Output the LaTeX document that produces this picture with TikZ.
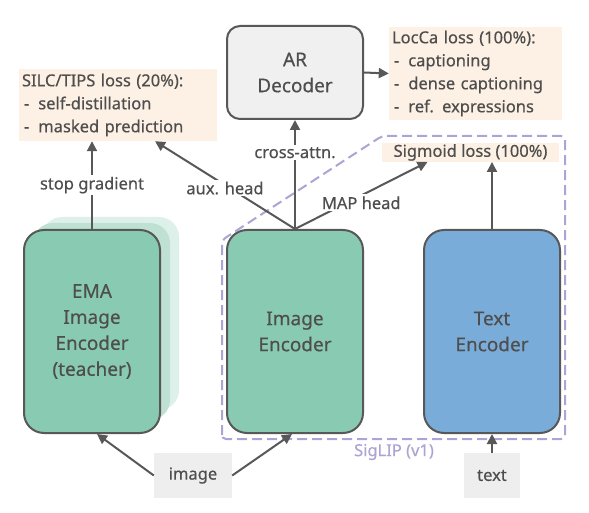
\documentclass[tikz,border=0pt]{standalone}
\usepackage{fontspec}
\setmainfont{Noto Sans}[FakeBold=0.45]
\usetikzlibrary{arrows.meta,positioning,calc}

\definecolor{encgreen}{RGB}{137,202,178}
\definecolor{encblue}{RGB}{122,172,218}
\definecolor{linegray}{RGB}{88,88,88}
\definecolor{txtgray}{RGB}{78,78,78}
\definecolor{lossfill}{RGB}{253,240,228}
\definecolor{decfill}{RGB}{240,240,240}
\definecolor{inputfill}{RGB}{238,238,238}
\definecolor{siglip}{RGB}{172,164,212}
\definecolor{shadenear}{RGB}{190,225,211}
\definecolor{shadefar}{RGB}{221,240,233}

\newcommand{\lossitem}[1]{\hspace*{2pt}-\hspace*{9pt}#1}

\begin{document}
\begin{tikzpicture}[x=1pt, y=-1pt, text=txtgray, font=\fontsize{16.5}{23}\selectfont,
  enc/.style={draw=linegray, line width=2pt, rounded corners=20pt, minimum width=136pt, minimum height=203pt, align=center, font=\fontsize{19}{26}\selectfont},
  dec/.style={draw=linegray, line width=2pt, rounded corners=13pt, fill=decfill, minimum width=136pt, minimum height=93pt, align=center, font=\fontsize{19}{26}\selectfont},
  loss/.style={fill=lossfill, align=left, inner sep=3pt},
  input/.style={fill=inputfill, minimum height=45pt, inner sep=0pt},
  arr/.style={draw=linegray, line width=2pt, -{Triangle[length=10pt,width=10pt]}},
  lbl/.style={fill=white, inner sep=2pt}]
  \useasboundingbox (0,0) rectangle (589,513);

  % teacher copies behind the EMA encoder
  \fill[shadefar, rounded corners=20pt] (42,217) rectangle (179,410);
  \fill[shadenear, rounded corners=20pt] (33,223) rectangle (170,420);

  % encoders and decoder
  \node[enc, fill=encgreen] (ema) at (92,331.5) {EMA\\Image\\Encoder\\(teacher)};
  \node[enc, fill=encgreen] (imgenc) at (295,331.5) {Image\\Encoder};
  \node[enc, fill=encblue] (txtenc) at (492,331.5) {Text\\Encoder};
  \node[dec] (ardec) at (295,72.5) {AR\\Decoder};

  % losses
  \node[loss, text width=192pt, minimum height=72pt] (silc) at (118,105) {SILC/TIPS loss (20\%):\\\lossitem{self-distillation}\\\lossitem{masked prediction}};
  \node[loss, text width=167pt, minimum height=93pt] (locca) at (475.5,73.5) {LocCa loss (100\%):\\\lossitem{captioning}\\\lossitem{dense captioning}\\\lossitem{ref. expressions}};
  \node[loss, inner ysep=1pt, minimum width=177pt] (sigmoid) at (470.5,152.5) {Sigmoid loss (100\%)};

  % inputs
  \node[input, minimum width=78pt] (image) at (193,475.5) {image};
  \node[input, minimum width=56pt] (text) at (492,475.5) {text};

  % SigLIP region
  \draw[siglip, line width=2pt, dash pattern=on 10pt off 5pt, rounded corners=4pt]
    (222,439) -- (222,240) -- (382,136) -- (565,136) -- (565,439) -- cycle;
  \node[text=siglip] (siglabel) at (394,452) {SigLIP (v1)};

  % connectors
  \draw[arr] (image.west) -- ([xshift=5pt]ema.south);
  \draw[arr] (image.east) -- ([xshift=-3pt]imgenc.south);
  \draw[arr] (text.north) -- (txtenc.south);
  \draw[arr] (ema.north) -- node[lbl]{stop gradient} (ema.north |- silc.south);
  \draw[arr] (imgenc.north) -- node[lbl, yshift=-3pt]{aux. head} ([xshift=37pt]silc.south);
  \draw[arr] (imgenc.north) -- node[lbl, pos=0.7]{cross-attn.} (ardec.south);
  \draw[arr] (imgenc.north) -- node[lbl, below=-2pt]{MAP head} ([xshift=-43pt]sigmoid.south);
  \draw[arr] (txtenc.north) -- (txtenc.north |- sigmoid.south);
  \draw[arr] (ardec.east) -- (locca.west);
\end{tikzpicture}
\end{document}
